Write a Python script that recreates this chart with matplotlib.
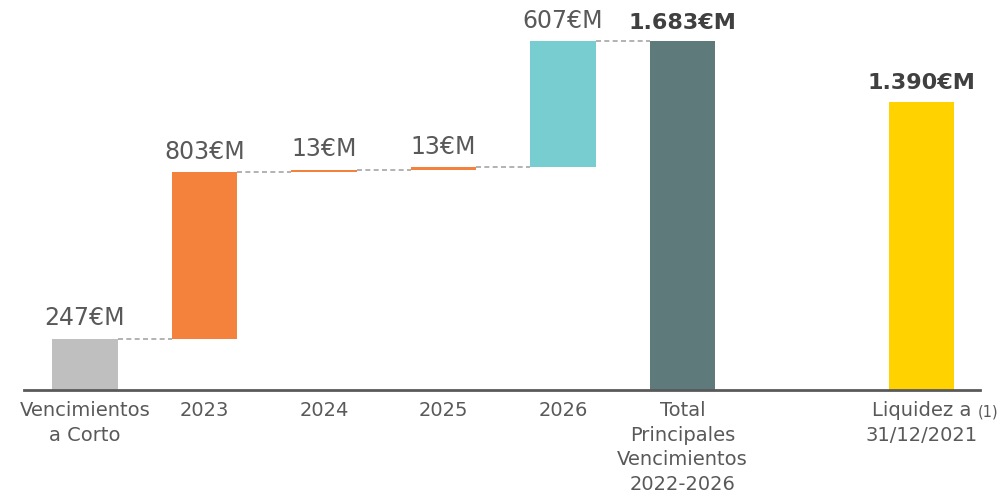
import matplotlib.pyplot as plt

# datos (millones de euros)
categorias = ['Vencimientos\na Corto', '2023', '2024', '2025', '2026',
              'Total\nPrincipales\nVencimientos\n2022-2026', 'Liquidez a\n31/12/2021']
posiciones = [0, 1, 2, 3, 4, 5, 7]
importes = [247, 803, 13, 13, 607, 1683, 1390]
etiquetas = ['247€M', '803€M', '13€M', '13€M', '607€M', '1.683€M', '1.390€M']
colores = ['#bfbfbf', '#f4823c', '#f4823c', '#f4823c', '#77cdd0', '#5f7a7a', '#ffd200']

plt.rcParams['font.family'] = ['DejaVu Sans']

fig = plt.figure(figsize=(10.05, 4.98), dpi=100)
ax = fig.add_axes([0, 0, 1, 1])
ax.set_xlim(-0.711, 7.699)
ax.set_ylim(-520.8, 1880.6)
ax.axis('off')

ancho = 0.55

# cascada: bases acumuladas para los escalones
bases = []
acum = 0
for i, v in enumerate(importes):
    if i in (0, 5, 6):
        bases.append(0)
    else:
        bases.append(acum)
    if i < 5:
        acum += v

ax.bar(posiciones, importes, bottom=bases, width=ancho, color=colores, zorder=2)

# lineas discontinuas entre escalones
for i in range(5):
    nivel = bases[i] + importes[i]
    ax.plot([posiciones[i] + ancho / 2, posiciones[i + 1] - ancho / 2], [nivel, nivel],
            ls=(0, (3, 2)), color='#a6a6a6', lw=1.2, zorder=1)

# eje inferior
ax.plot([-0.51, 7.49], [0, 0], color='#595959', lw=2, zorder=3)

# etiquetas de valor
for i, p in enumerate(posiciones):
    negrita = i >= 5
    ax.text(p, bases[i] + importes[i] + 40, etiquetas[i], ha='center', va='bottom',
            fontsize=16 if negrita else 17, color='#404040' if negrita else '#595959',
            fontweight='bold' if negrita else 'normal')

# etiquetas de categoria
for c, p in zip(categorias, posiciones):
    ax.text(p, -55, c, ha='center', va='top', fontsize=14, color='#595959',
            linespacing=1.36)
ax.text(7.47, -68, '(1)', ha='left', va='top', fontsize=10.5, color='#595959')

fig.savefig('out.png', dpi=100)
